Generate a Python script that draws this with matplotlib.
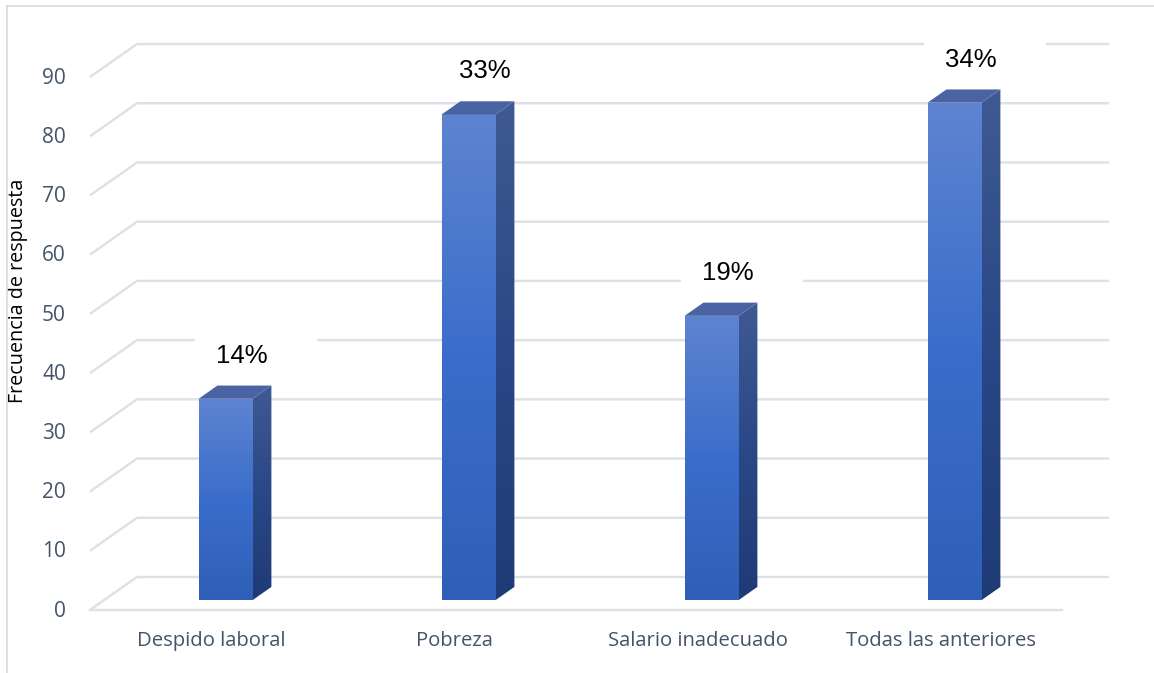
import numpy as np
import matplotlib
matplotlib.use("Agg")
import matplotlib.pyplot as plt
from matplotlib.patches import Polygon, Rectangle
from matplotlib.lines import Line2D
from matplotlib.colors import LinearSegmentedColormap

# ---------------- data ----------------
categories = ["Despido laboral", "Pobreza", "Salario inadecuado", "Todas las anteriores"]
frecuencias = [34, 82, 48, 84]
porcentajes = ["14%", "33%", "19%", "34%"]
yticks = [0, 10, 20, 30, 40, 50, 60, 70, 80, 90]
ylabel = "Frecuencia de respuesta"

# ---------------- layout ----------------
W, H = 1154, 673
fig = plt.figure(figsize=(W / 100, H / 100), dpi=100)
ax = fig.add_axes([0, 0, 1, 1])
ax.set_axis_off()

px_per_cat = 243.0      # horizontal pixels per category
px_per_unit = 5.922     # vertical pixels per unit of value
x0_px = 90              # left edge of front floor (pixels)
y0_px = 610             # front floor line (pixels from top)
xlim = (-0.5 - x0_px / px_per_cat, -0.5 + (W - x0_px) / px_per_cat)
ylim = (-(H - y0_px) / px_per_unit, y0_px / px_per_unit)

DX = 47 / px_per_cat    # depth offset (category units)
DY = 33 / px_per_unit   # depth offset (value units)
d0, d1 = 0.30, 0.70     # bar depth range
bw = 27 / px_per_cat    # half bar width

grid_c = "#DCE0E7"
text_c = "#44546A"
n = len(categories)

# gridlines: oblique left wall + back wall
for v in yticks:
    ax.plot([-0.5, -0.5 + DX, n - 0.5 + DX], [v, v + DY, v + DY],
            color=grid_c, lw=1.7, zorder=1, solid_capstyle="butt")
# front floor edge
ax.plot([-0.5, n - 0.5], [0, 0], color=grid_c, lw=1.7, zorder=1)

# y tick labels
for v in yticks:
    ax.text(-0.5 - 24 / px_per_cat, v - 0.2, str(v), ha="right", va="center",
            fontsize=15, color=text_c, family="Open Sans", zorder=6)

# category labels
for i, c in enumerate(categories):
    ax.text(i, -31 / px_per_unit, c, ha="center", va="center",
            fontsize=14.6, color=text_c, family="Open Sans", zorder=6)

# y axis title
ax.text(xlim[0] + 18 / px_per_cat, ylim[1] - 291 / px_per_unit, ylabel,
        rotation=90, ha="center", va="center", fontsize=14.2, color="black",
        family="Open Sans", zorder=6)

front_cmap = LinearSegmentedColormap.from_list(
    "front", ["#2F5FB7", "#3A6DCB", "#5E84D0"])
side_cmap = LinearSegmentedColormap.from_list(
    "side", ["#1F3B76", "#2A4886", "#3F5A93"])
grad = np.linspace(0, 1, 256).reshape(-1, 1)

for i, v in enumerate(frecuencias):
    xl = i - bw + d0 * DX
    xr = i + bw + d0 * DX
    yb = d0 * DY
    yt = v + d0 * DY
    ddx = (d1 - d0) * DX
    ddy = (d1 - d0) * DY

    # front face
    front = Polygon([(xl, yb), (xr, yb), (xr, yt), (xl, yt)], closed=True,
                    facecolor="none", edgecolor="none", zorder=3)
    ax.add_patch(front)
    im = ax.imshow(grad, cmap=front_cmap, origin="lower", aspect="auto",
                   extent=(xl, xr, yb, yt), zorder=3)
    im.set_clip_path(front)

    # side face
    side_pts = [(xr, yb), (xr + ddx, yb + ddy), (xr + ddx, yt + ddy), (xr, yt)]
    side = Polygon(side_pts, closed=True, facecolor="none", edgecolor="none", zorder=3)
    ax.add_patch(side)
    im2 = ax.imshow(grad, cmap=side_cmap, origin="lower", aspect="auto",
                    extent=(xr, xr + ddx, yb, yt + ddy), zorder=3)
    im2.set_clip_path(side)

    # top face
    top = Polygon([(xl, yt), (xr, yt), (xr + ddx, yt + ddy), (xl + ddx, yt + ddy)],
                  closed=True, facecolor="#4A64A3", edgecolor="none", zorder=3.5)
    ax.add_patch(top)

    # data label with white box
    lx = i + 30 / px_per_cat
    ly = yt + 43 / px_per_unit
    ax.add_patch(Rectangle((lx + 14 / px_per_cat - 61 / px_per_cat, ly - 25 / px_per_unit),
                           122 / px_per_cat, 50 / px_per_unit,
                           facecolor="white", edgecolor="none", zorder=2))
    ax.text(lx, ly, porcentajes[i], ha="center", va="center", fontsize=18.5,
            color="black", family="Liberation Sans", zorder=6)

ax.set_xlim(xlim)
ax.set_ylim(ylim)

# chart border (left and top visible)
fig.add_artist(Line2D([6.5 / W, 6.5 / W], [0, 1 - 5.5 / H], transform=fig.transFigure,
                      color="#D9D9D9", lw=1.2))
fig.add_artist(Line2D([6.5 / W, 1], [1 - 5.5 / H, 1 - 5.5 / H], transform=fig.transFigure,
                      color="#D9D9D9", lw=1.2))

fig.savefig("out.png", dpi=100, facecolor="white")
